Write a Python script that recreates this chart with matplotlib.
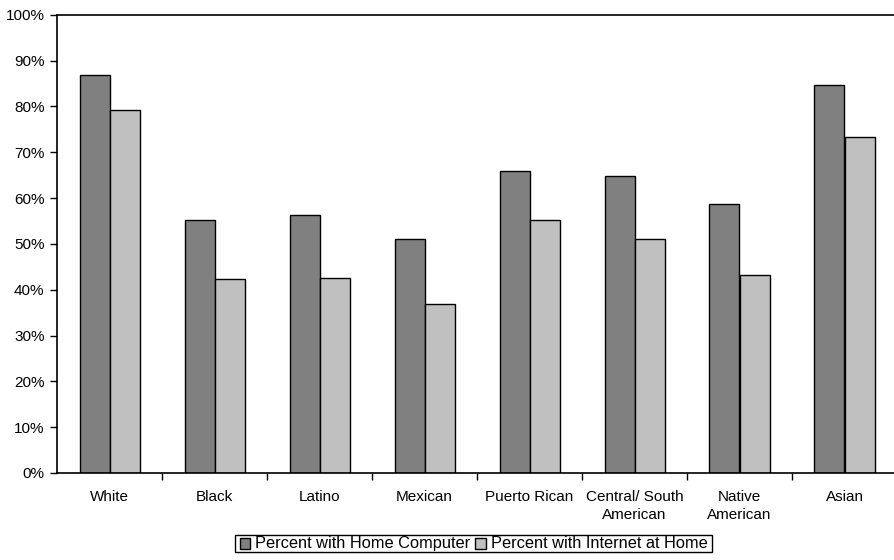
import matplotlib
matplotlib.use("Agg")
import matplotlib.pyplot as plt
import numpy as np
from matplotlib.patches import Rectangle
from matplotlib.transforms import IdentityTransform
from matplotlib.ticker import FixedLocator, PercentFormatter

plt.rcParams['font.family'] = ['Liberation Sans', 'DejaVu Sans']

categories = ["White", "Black", "Latino", "Mexican", "Puerto Rican",
              "Central/ South\nAmerican", "Native\nAmerican", "Asian"]
home_computer = [86.9, 55.1, 56.4, 51.0, 65.9, 64.7, 58.7, 84.7]
internet_home = [79.1, 42.3, 42.5, 36.9, 55.3, 51.1, 43.1, 73.3]
series_labels = ["Percent with Home Computer", "Percent with Internet at Home"]
y_ticks = list(range(0, 101, 10))

fig = plt.figure(figsize=(8.95, 5.6), dpi=100)
W, H = 895, 560
ax = fig.add_axes([57 / W, 1 - 473 / H, 840 / W, (473 - 14.7) / H])

x = np.arange(len(categories))
bw = 1 / 3.5
bars_pc = ax.bar(x - bw / 2, home_computer, width=bw, color="#808080",
                 edgecolor="black", linewidth=1.0, label=series_labels[0])
bars_net = ax.bar(x + bw / 2, internet_home, width=bw, color="#c0c0c0",
                  edgecolor="black", linewidth=1.0, label=series_labels[1])

ax.set_xlim(-0.5, len(categories) - 0.5)
ax.set_ylim(0, 100)
ax.set_yticks(y_ticks)
ax.yaxis.set_major_formatter(PercentFormatter(decimals=0))
ax.tick_params(axis="y", direction="out", length=5, width=1, labelsize=11, pad=4)

ax.set_xticks(x)
ax.set_xticklabels(categories, fontsize=11, linespacing=1.4)
ax.tick_params(axis="x", which="major", length=0, pad=12)
ax.xaxis.set_minor_locator(FixedLocator(np.arange(0.5, len(categories) - 0.5, 1)))
ax.tick_params(axis="x", which="minor", direction="out", length=5, width=1)

for side in ["left", "top", "bottom", "right"]:
    ax.spines[side].set_linewidth(1.2)
    ax.spines[side].set_color("black")

# Legend row laid out in pixel units so both entries share one baseline
px = IdentityTransform()
box_top, box_bot = 535.0, 552.0
baseline = 548.0
sq, gap, colgap, pad = 10.5, 5.0, 5.0, 4.5
texts = [fig.text(0, H - baseline, lab, fontsize=11.8, transform=px,
                  ha="left", va="baseline") for lab in series_labels]
fig.canvas.draw()
renderer = fig.canvas.get_renderer()
widths = [t.get_window_extent(renderer).width for t in texts]
total = 2 * pad + 2 * sq + 2 * gap + colgap + sum(widths)
x0 = 473.5 - total / 2
fig.add_artist(Rectangle((x0, H - box_bot), total, box_bot - box_top,
                         transform=px, facecolor="white", edgecolor="black",
                         linewidth=1.0, zorder=1))
cur = x0 + pad
for t, w, bars in zip(texts, widths, [bars_pc, bars_net]):
    fig.add_artist(Rectangle((cur, H - 548.5), sq, sq, transform=px,
                             facecolor=bars[0].get_facecolor(),
                             edgecolor="black", linewidth=1.0, zorder=2))
    cur += sq + gap
    t.set_x(cur)
    t.set_zorder(3)
    cur += w + colgap

fig.savefig("out.png", dpi=100)
